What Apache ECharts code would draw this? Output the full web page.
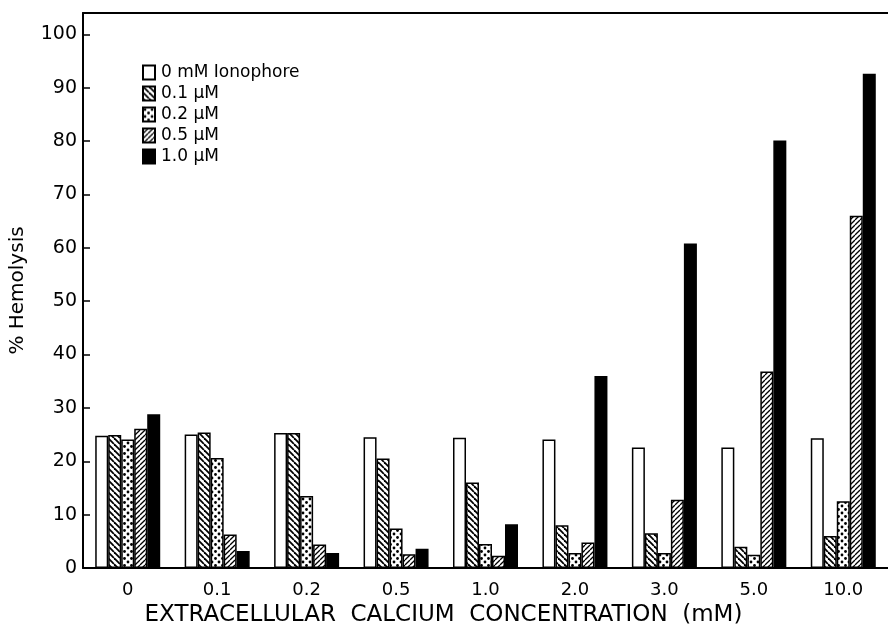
<!DOCTYPE html>
<html>
<head>
<meta charset="utf-8">
<script src="https://cdn.jsdelivr.net/npm/echarts@6/dist/echarts.min.js"></script>
<style>
html,body{margin:0;padding:0;background:#fff;}
#chart{width:888px;height:636px;}
</style>
</head>
<body>
<div id="chart"></div>
<script>
// ---- data ----
var categories = ['0', '0.1', '0.2', '0.5', '1.0', '2.0', '3.0', '5.0', '10.0'];
var seriesNames = ['0 mM Ionophore', '0.1 \u03bcM', '0.2 \u03bcM', '0.5 \u03bcM', '1.0 \u03bcM'];
var iono0   = [24.8, 25.0, 25.3, 24.5, 24.4, 24.1, 22.6, 22.6, 24.3];
var iono01  = [24.9, 25.4, 25.3, 20.5, 16.0, 8.0, 6.5, 4.0, 6.0];
var iono02  = [24.1, 20.6, 13.5, 7.4, 4.5, 2.8, 2.8, 2.5, 12.5];
var iono05  = [26.1, 6.3, 4.4, 2.6, 2.3, 4.8, 12.8, 36.8, 66.0];
var iono10  = [28.8, 3.2, 2.8, 3.6, 8.2, 36.0, 60.8, 80.1, 92.6];
var yTicks  = [0, 10, 20, 30, 40, 50, 60, 70, 80, 90, 100];

// ---- patterns ----
function hatch(s, lw, dir) {
  var c = document.createElement('canvas');
  c.width = s; c.height = s;
  var g = c.getContext('2d');
  g.fillStyle = '#fff'; g.fillRect(0, 0, s, s);
  g.strokeStyle = '#000'; g.lineWidth = lw;
  for (var k = -s; k <= s; k += s) {
    g.beginPath();
    if (dir === 'back') { g.moveTo(k, 0); g.lineTo(k + s, s); }
    else { g.moveTo(k + s, 0); g.lineTo(k, s); }
    g.stroke();
  }
  return c;
}
function dots() {
  var c = document.createElement('canvas');
  c.width = 7; c.height = 7;
  var g = c.getContext('2d');
  g.fillStyle = '#fff'; g.fillRect(0, 0, 7, 7);
  g.fillStyle = '#000';
  g.beginPath(); g.arc(2, 2, 1.4, 0, Math.PI * 2); g.fill();
  g.beginPath(); g.arc(5.5, 5.5, 1.4, 0, Math.PI * 2); g.fill();
  return c;
}
var fills = [
  '#ffffff',
  {image: hatch(6, 1.8, 'back'), repeat: 'repeat'},
  {image: dots(), repeat: 'repeat'},
  {image: hatch(5, 1.3, 'fwd'), repeat: 'repeat'},
  '#000000'
];
var values = [iono0, iono01, iono02, iono05, iono10];

var font = 'DejaVu Sans';
var series = values.map(function (v, i) {
  return {
    name: seriesNames[i],
    type: 'bar',
    data: v,
    barWidth: 13,
    barGap: '0%',
    itemStyle: {color: fills[i], borderColor: '#000', borderWidth: 1.5},
    emphasis: {disabled: true}
  };
});

var chart = echarts.init(document.getElementById('chart'), null, {renderer: 'canvas'});
chart.setOption({
  animation: false,
  backgroundColor: '#fff',
  grid: {left: 83, top: 13, width: 811, bottom: 68, containLabel: false},
  legend: {
    orient: 'vertical',
    left: 137, top: 59,
    itemWidth: 12, itemHeight: 14, itemGap: 4,
    icon: 'rect',
    textStyle: {fontFamily: font, fontSize: 17, color: '#000', padding: [0, 0, 0, 1]},
    data: seriesNames
  },
  xAxis: [{
    type: 'category',
    data: categories,
    position: 'bottom',
    axisLine: {lineStyle: {color: '#000', width: 2}},
    axisTick: {alignWithLabel: true, length: 9, lineStyle: {color: '#000', width: 1.5}},
    axisLabel: {fontFamily: font, fontSize: 18, color: '#000', margin: 13},
    name: 'EXTRACELLULAR  CALCIUM  CONCENTRATION  (mM)',
    nameLocation: 'middle',
    nameGap: 36,
    nameTextStyle: {fontFamily: font, fontSize: 23, color: '#000', padding: [0, 84, 0, 0]}
  }, {
    type: 'category',
    data: categories,
    position: 'top',
    axisLine: {show: true, lineStyle: {color: '#000', width: 2}},
    axisTick: {show: false},
    axisLabel: {show: false}
  }],
  yAxis: {
    type: 'value',
    min: 0, max: 104, interval: 10,
    axisLine: {show: true, lineStyle: {color: '#000', width: 2}},
    axisTick: {show: true, inside: true, length: 7, lineStyle: {color: '#000', width: 1.5}},
    axisLabel: {
      fontFamily: font, fontSize: 19, color: '#000', margin: 6,
      formatter: function (v) { return yTicks.indexOf(v) >= 0 ? String(v) : ''; }
    },
    splitLine: {show: false},
    name: '% Hemolysis',
    nameLocation: 'middle',
    nameRotate: 90,
    nameGap: 55,
    nameTextStyle: {fontFamily: font, fontSize: 20, color: '#000'}
  },
  series: series
});
</script>
</body>
</html>
